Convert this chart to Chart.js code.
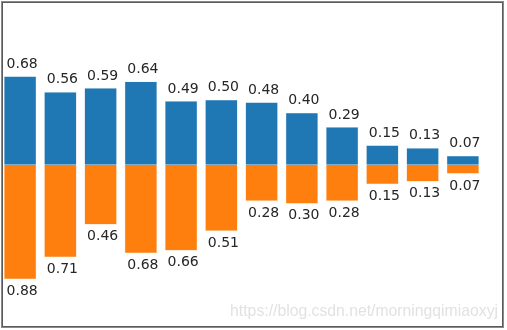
<!DOCTYPE html>
<html>
<head>
<meta charset="utf-8">
<script src="https://cdn.jsdelivr.net/npm/chart.js@4/dist/chart.umd.min.js"></script>
<style>
  html, body { margin: 0; padding: 0; background: #fff; }
  #wrap { position: relative; width: 507px; height: 330px; }
</style>
</head>
<body>
<div id="wrap"><canvas id="chartBars" width="507" height="330"></canvas></div>
<script>
// data
var categories = ['1', '2', '3', '4', '5', '6', '7', '8', '9', '10', '11', '12'];
var upValues = [0.68, 0.56, 0.59, 0.64, 0.49, 0.50, 0.48, 0.40, 0.29, 0.15, 0.13, 0.07];
var downValues = [0.88, 0.71, 0.46, 0.68, 0.66, 0.51, 0.28, 0.30, 0.28, 0.15, 0.13, 0.07];
var watermark = 'https://blog.csdn.net/morningqimiaoxyj';

// bar labels (value text above / below each bar) + frame + watermark
var labelPlugin = {
    id: 'labels',
    afterDatasetsDraw: function (chart) {
        var ctx = chart.ctx;
        ctx.save();
        ctx.font = '14px "DejaVu Sans"';
        ctx.fillStyle = '#262626';
        ctx.textAlign = 'center';
        chart.getDatasetMeta(0).data.forEach(function (bar, i) {
            ctx.textBaseline = 'bottom';
            ctx.fillText(upValues[i].toFixed(2), bar.x + 2, bar.y - 5);
        });
        chart.getDatasetMeta(1).data.forEach(function (bar, i) {
            ctx.textBaseline = 'top';
            ctx.fillText(downValues[i].toFixed(2), bar.x + 2, bar.y + 5);
        });
        ctx.restore();
    },
    afterDraw: function (chart) {
        var ctx = chart.ctx;
        ctx.save();
        // watermark
        ctx.font = '16px "Liberation Sans"';
        var w = ctx.measureText(watermark).width;
        var size = 16 * 268 / w;
        ctx.font = size + 'px "Liberation Sans"';
        ctx.fillStyle = '#e2e2e2';
        ctx.textAlign = 'right';
        ctx.textBaseline = 'alphabetic';
        ctx.fillText(watermark, 498, 316);
        // frame
        ctx.strokeStyle = '#8a8a8a';
        ctx.lineWidth = 1;
        ctx.strokeRect(1.5, 1.5, 502, 326);
        ctx.strokeStyle = '#5a5a5a';
        ctx.strokeRect(2.5, 2.5, 500, 324);
        ctx.restore();
    }
};

var ctx = document.getElementById('chartBars').getContext('2d');
var chartBars = new Chart(ctx, {
    type: 'bar',
    data: {
        labels: categories,
        datasets: [{
            label: 'up',
            backgroundColor: '#1f77b4',
            borderColor: '#d6e4ef',
            borderWidth: 0.6,
            data: upValues
        }, {
            label: 'down',
            backgroundColor: '#ff7f0e',
            borderColor: '#ffe3cc',
            borderWidth: 0.6,
            data: downValues.map(function (v) { return -v; })
        }]
    },
    options: {
        responsive: false,
        animation: false,
        devicePixelRatio: 1,
        layout: { padding: { left: 0, right: 24, top: 34.5, bottom: 35 } },
        datasets: { bar: { barPercentage: 0.81, categoryPercentage: 1 } },
        plugins: { legend: { display: false }, tooltip: { enabled: false } },
        scales: {
            x: { stacked: true, display: false },
            y: { stacked: true, display: false, min: -1, max: 1 }
        }
    },
    plugins: [labelPlugin]
});
</script>
</body>
</html>
